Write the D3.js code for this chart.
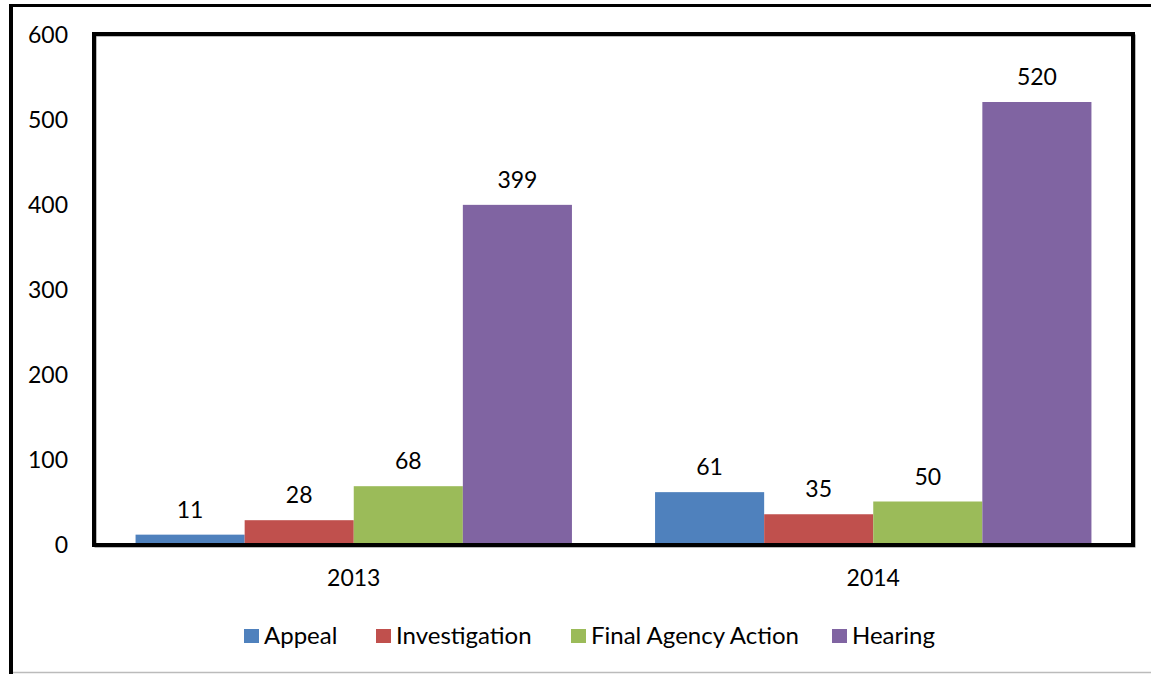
<!DOCTYPE html>
<html><head><meta charset="utf-8">
<script src="https://cdn.jsdelivr.net/npm/d3@7"></script>
<style>body{margin:0;background:#fff}svg{display:block}text{font-family:Lato,"Open Sans",sans-serif;fill:#000}</style>
</head><body><svg id="c" width="1151" height="674"></svg>
<script>
const categories = ["2013", "2014"];
const seriesNames = ["Appeal", "Investigation", "Final Agency Action", "Hearing"];
const appeal = [11, 61];
const investigation = [28, 35];
const finalAgencyAction = [68, 50];
const hearing = [399, 520];
const yTicks = [0, 100, 200, 300, 400, 500, 600];
const colors = ["#4F81BD", "#C0504D", "#9BBB59", "#8064A2"];

const seriesValues = [appeal, investigation, finalAgencyAction, hearing];
const svg = d3.select("#c");
const L = 94, R = 1133, T = 34, B = 544;

// outer border
svg.append("line").attr("x1", 11).attr("x2", 11).attr("y1", 4).attr("y2", 674).attr("stroke", "#000").attr("stroke-width", 4);
svg.append("line").attr("x1", 9).attr("x2", 1151).attr("y1", 5.5).attr("y2", 5.5).attr("stroke", "#000").attr("stroke-width", 3);
svg.append("line").attr("x1", 13).attr("x2", 1151).attr("y1", 672.5).attr("y2", 672.5).attr("stroke", "#bbb").attr("stroke-width", 1.5);

const x0 = d3.scaleBand().domain(categories).range([L, R]).paddingInner(0.16).paddingOuter(0.08);
const x1 = d3.scaleBand().domain(seriesNames).range([0, x0.bandwidth()]);
const y = d3.scaleLinear().domain([0, 600]).range([B, T]);

// plot frame shadow
svg.append("rect").attr("x", L + 1.5).attr("y", T + 1.5).attr("width", R - L).attr("height", B - T + 1)
  .attr("fill", "none").attr("stroke", "#777").attr("stroke-width", 2);

const g = svg.append("g");
seriesNames.forEach((s, si) => {
  g.selectAll(null).data(categories).enter().append("rect")
    .attr("x", (c) => x0(c) + x1(s))
    .attr("width", x1.bandwidth())
    .attr("y", (c, i) => y(seriesValues[si][i]))
    .attr("height", (c, i) => y(0) - y(seriesValues[si][i]))
    .attr("fill", colors[si]);
  g.selectAll(null).data(categories).enter().append("text")
    .attr("x", (c) => x0(c) + x1(s) + x1.bandwidth() / 2)
    .attr("y", (c, i) => y(seriesValues[si][i]) - 17)
    .attr("text-anchor", "middle").attr("font-size", 23)
    .text((c, i) => seriesValues[si][i]);
});

svg.append("rect").attr("x", L).attr("y", T).attr("width", R - L).attr("height", B - T + 1)
  .attr("fill", "none").attr("stroke", "#000").attr("stroke-width", 4);

// y axis labels
const yAxis = d3.axisLeft(y).tickValues(yTicks).tickSize(0).tickPadding(26);
const ya = svg.append("g").attr("transform", `translate(${L},0)`).call(yAxis);
ya.select(".domain").remove();
ya.selectAll("text").attr("font-size", 23).attr("dy", "0.36em").style("font-family", "Lato,'Open Sans',sans-serif");

// x axis labels
const xAxis = d3.axisBottom(x0).tickSize(0).tickPadding(26);
const xa = svg.append("g").attr("transform", `translate(0,${B})`).call(xAxis);
xa.select(".domain").remove();
xa.selectAll("text").attr("font-size", 23).attr("dy", "0.71em").style("font-family", "Lato,'Open Sans',sans-serif");

// legend
const legX = [244, 376, 571, 832];
const lg = svg.append("g");
seriesNames.forEach((s, i) => {
  lg.append("rect").attr("x", legX[i]).attr("y", 629).attr("width", 15).attr("height", 14).attr("fill", colors[i]);
  lg.append("text").attr("x", legX[i] + 20).attr("y", 644).attr("font-size", 24).text(s);
});
</script></body></html>
